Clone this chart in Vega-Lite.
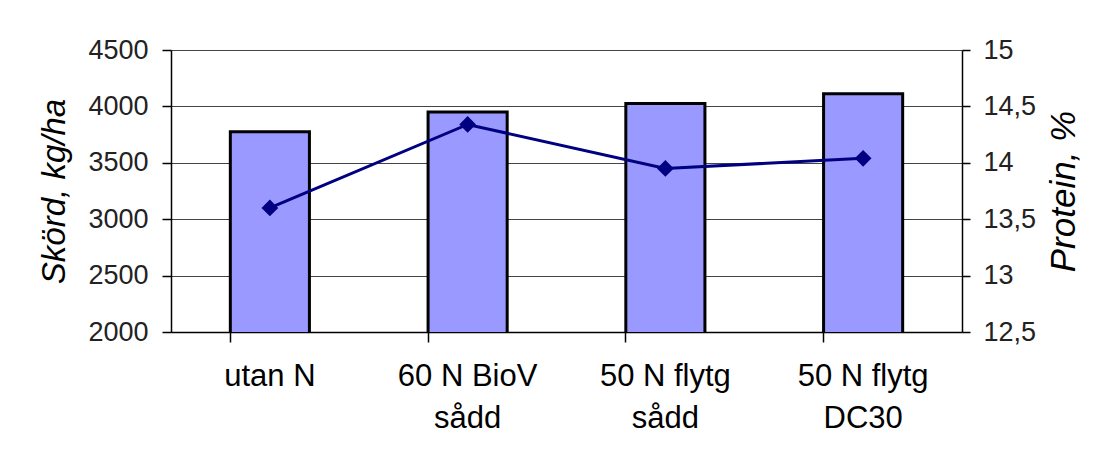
{
  "$schema": "https://vega.github.io/schema/vega-lite/v6.json",
  "width": 791,
  "height": 282,
  "autosize": {"type": "none"},
  "padding": {"left": 171, "top": 50, "right": 144, "bottom": 138},
  "background": "white",
  "config": {
    "view": {"stroke": null},
    "font": "Liberation Sans",
    "axis": {"labelFont": "Liberation Sans", "titleFont": "Liberation Sans"}
  },
  "data": {
    "values": [
      {"behandling": "utan N", "skord": 3775, "protein": 13.6},
      {"behandling": "60 N BioV\nsådd", "skord": 3950, "protein": 14.34},
      {"behandling": "50 N flytg\nsådd", "skord": 4025, "protein": 13.95},
      {"behandling": "50 N flytg\nDC30", "skord": 4112, "protein": 14.04}
    ]
  },
  "encoding": {
    "x": {
      "field": "behandling",
      "type": "nominal",
      "sort": null,
      "scale": {"paddingInner": 0.6, "paddingOuter": 0.3},
      "axis": {
        "title": null,
        "labelAngle": 0,
        "bandPosition": 0,
        "labelExpr": "split(datum.label, '\\n')",
        "labelFontSize": 31,
        "labelColor": "black",
        "labelLineHeight": 42,
        "labelBaseline": "top",
        "labelPadding": 19,
        "tickSize": 10,
        "tickColor": "black",
        "tickWidth": 1.5,
        "domainColor": "black",
        "domainWidth": 1.5,
        "grid": false
      }
    }
  },
  "layer": [
    {
      "mark": {"type": "bar", "color": "#9999FF", "stroke": "black", "strokeWidth": 3, "clip": true},
      "encoding": {
        "y": {
          "field": "skord",
          "type": "quantitative",
          "scale": {"domain": [2000, 4500], "zero": false, "nice": false},
          "axis": {
            "title": "Skörd, kg/ha",
            "values": [2000, 2500, 3000, 3500, 4000, 4500],
            "format": "d",
            "labelFontSize": 27,
            "labelColor": "#222",
            "labelPadding": 14,
            "tickSize": 9,
            "tickColor": "black",
            "tickWidth": 1.5,
            "domainColor": "black",
            "domainWidth": 1.5,
            "grid": true,
            "gridColor": "#444",
            "gridWidth": 1,
            "titleFontSize": 33,
            "titleFontStyle": "italic",
            "titleFontWeight": "normal",
            "titleColor": "black",
            "titlePadding": 16
          }
        }
      }
    },
    {
      "mark": {"type": "line", "color": "#000080", "strokeWidth": 3, "point": {"shape": "diamond", "size": 280, "filled": true, "color": "#000080"}},
      "encoding": {
        "y": {
          "field": "protein",
          "type": "quantitative",
          "scale": {"domain": [12.5, 15], "zero": false, "nice": false},
          "axis": {
            "orient": "right",
            "title": "Protein, %",
            "values": [12.5, 13, 13.5, 14, 14.5, 15],
            "labelExpr": "replace(format(datum.value, '~g'), '.', ',')",
            "labelFontSize": 27,
            "labelColor": "#222",
            "labelPadding": 13,
            "tickSize": 8,
            "tickColor": "black",
            "tickWidth": 1.5,
            "domainColor": "black",
            "domainWidth": 1.5,
            "grid": false,
            "titleFontSize": 35,
            "titleFontStyle": "italic",
            "titleFontWeight": "normal",
            "titleColor": "black",
            "titleAngle": 270,
            "titleBaseline": "top",
            "titlePadding": 11
          }
        }
      }
    }
  ],
  "resolve": {"scale": {"y": "independent"}}
}
